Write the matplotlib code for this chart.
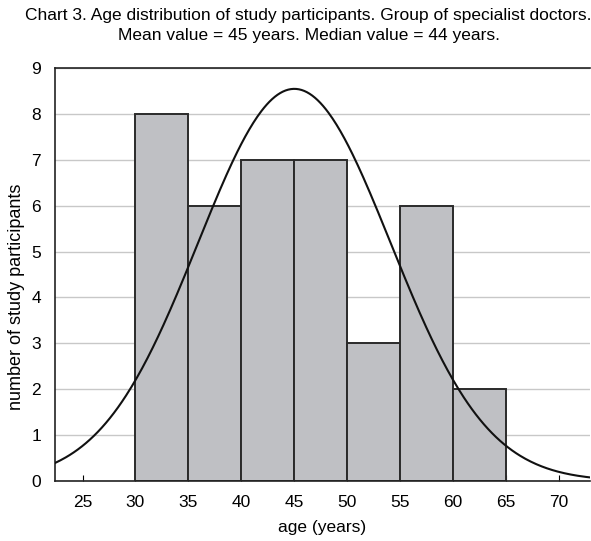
import numpy as np
import matplotlib
matplotlib.use("Agg")
import matplotlib.pyplot as plt

# age bins (years) and participant counts per bin
bin_edges = [30, 35, 40, 45, 50, 55, 60, 65]
counts = [8, 6, 7, 7, 3, 6, 2]

# fitted normal curve parameters
mean_age = 45.0
sd_age = 9.1

x_ticks = [25, 30, 35, 40, 45, 50, 55, 60, 65, 70]
y_ticks = list(range(0, 10))

plt.rcParams["font.family"] = ["Liberation Sans Narrow", "Liberation Sans", "DejaVu Sans"]

fig = plt.figure(figsize=(5.91, 5.41), dpi=100)
ax = fig.add_axes([0.093, 0.111, 0.905, 0.763])

left = np.array(bin_edges[:-1], float)
width = np.diff(bin_edges)
ax.bar(left, counts, width=width, align="edge", color="#bfc0c4",
       edgecolor="#2a2a2a", linewidth=1.4, zorder=2)

# normal curve scaled to counts: N * bin width * pdf
n = sum(counts)
bw = width[0]
xs = np.linspace(22.4, 72.9, 400)
ys = n * bw / (sd_age * np.sqrt(2 * np.pi)) * np.exp(-0.5 * ((xs - mean_age) / sd_age) ** 2)
ax.plot(xs, ys, color="#111111", lw=1.5, zorder=3)

ax.set_xlim(22.4, 72.9)
ax.set_ylim(0, 9)
ax.set_xticks(x_ticks)
ax.set_yticks(y_ticks)
ax.yaxis.grid(True, color="#c8c8c8", lw=1.0, zorder=0)
ax.set_axisbelow(True)
ax.tick_params(axis="x", direction="in", length=4, width=0.8, labelsize=12.5, pad=10)
ax.tick_params(axis="y", length=0, labelsize=12.5, pad=10)
for s in ["left", "bottom", "top"]:
    ax.spines[s].set_color("#222222")
    ax.spines[s].set_linewidth(1.2)
ax.spines["right"].set_visible(False)

ax.set_xlabel("age (years)", fontsize=12.5)
ax.xaxis.set_label_coords(0.5, -0.095)
ax.set_ylabel("number of study participants", fontsize=13)
ax.yaxis.set_label_coords(-0.056, 0.445)

fig.text(0.522, 0.972, "Chart 3. Age distribution of study participants. Group of specialist doctors.",
         ha="center", va="center", fontsize=12.5)
fig.text(0.522, 0.935, "Mean value = 45 years. Median value = 44 years.",
         ha="center", va="center", fontsize=12.5)

fig.savefig("out.png", dpi=100)
